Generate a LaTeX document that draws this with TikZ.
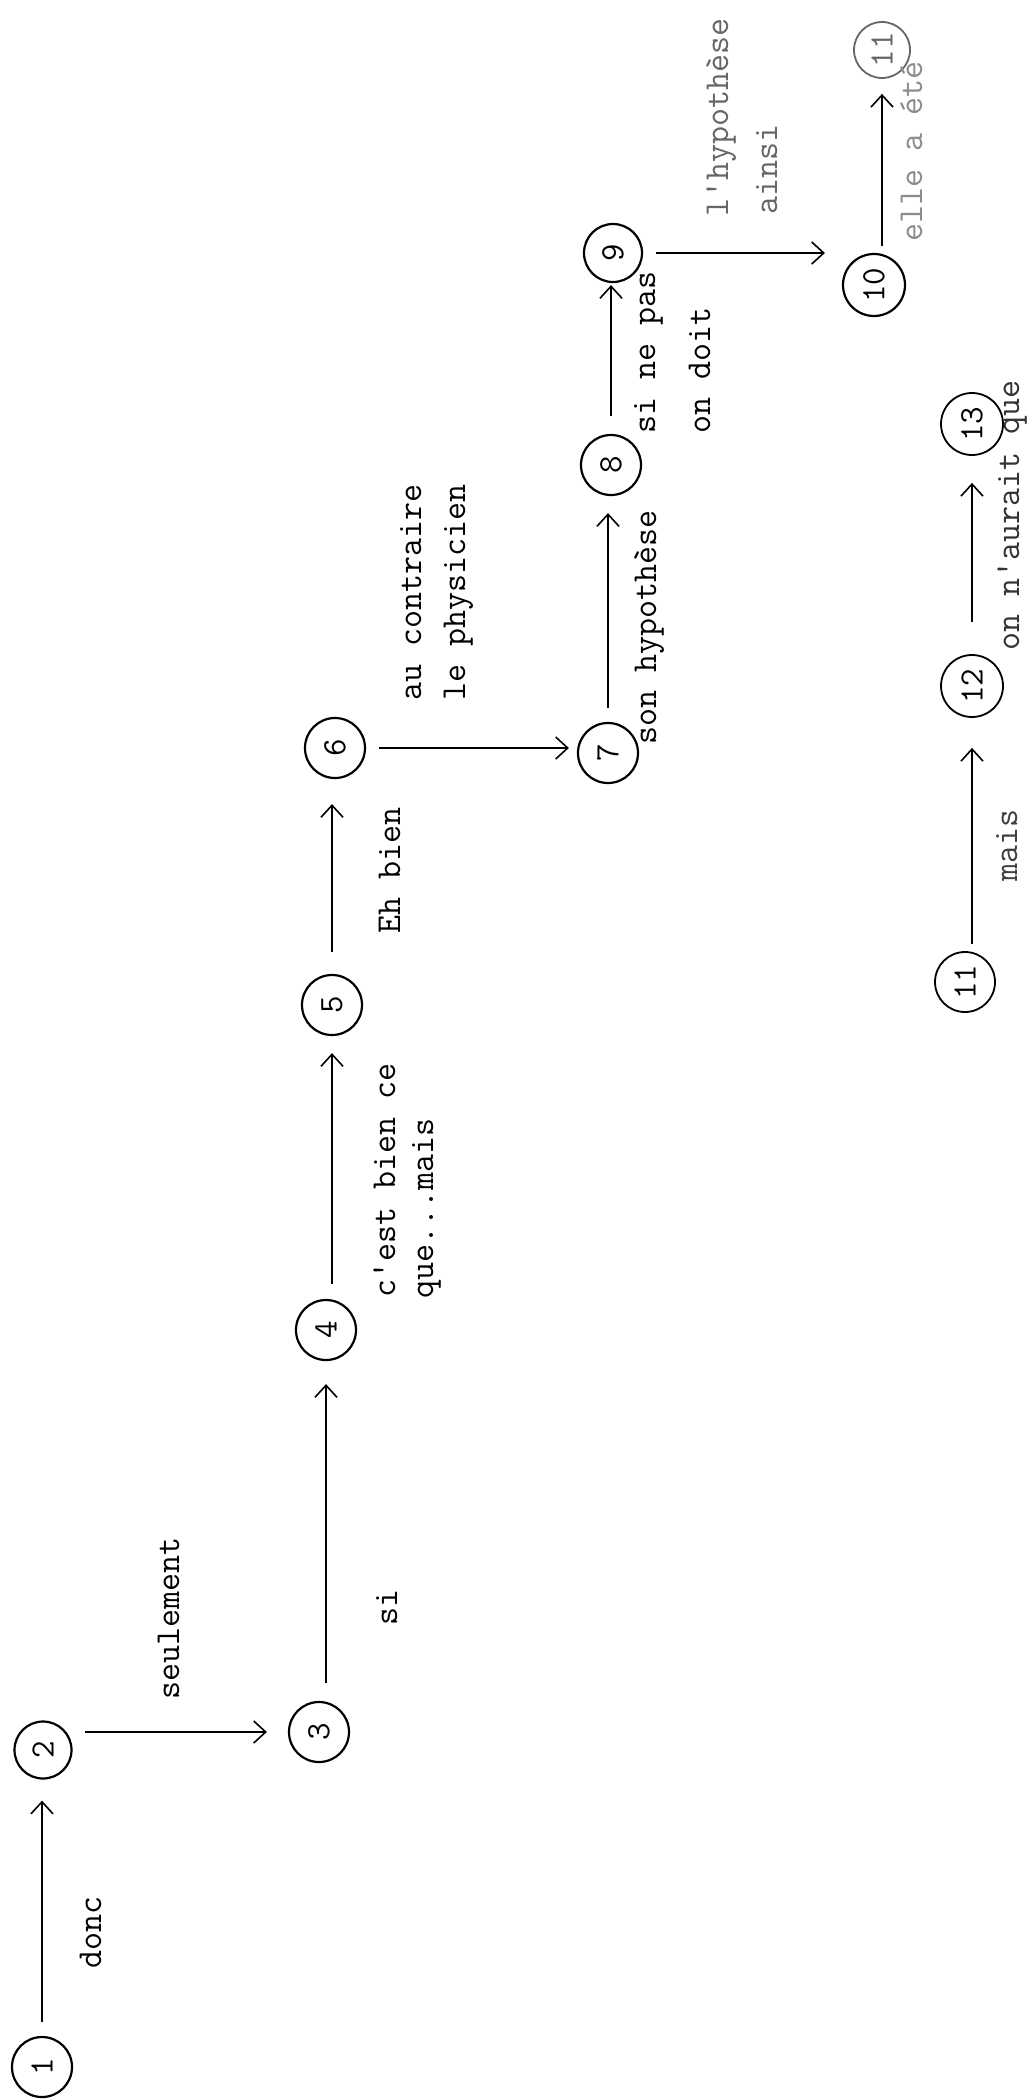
\documentclass[tikz,border=0pt]{standalone}
\usepackage{graphicx}
\usepackage{fontspec}
\usetikzlibrary{arrows.meta}
\newcommand{\rotnum}[1]{\rotatebox{90}{#1}}
\tikzset{
  num/.style={circle, draw, line width=2.2pt, minimum size=60pt, inner sep=0pt,
    font=\ttfamily\fontsize{34}{34}\selectfont},
  lbl/.style={anchor=base west, inner sep=0pt,
    font=\ttfamily\fontsize{35}{35}\selectfont, rotate=90},
  conn/.style={line width=1.4pt, -{Straight Barb[length=12pt,width=22pt,line width=1.6pt]}},
  faded/.style={black!60},
  faint/.style={black!45},
}
\begin{document}
\begin{tikzpicture}[x=1pt,y=-1pt]
\fill[white] (0,0) rectangle (1026,2100);
\useasboundingbox (0,0) rectangle (1026,2100);

% circled numbers
\node[num] (n1) at (42,2067) {\rotnum{1}};
\node[num, minimum size=57pt] (n2) at (43,1750) {\rotnum{2}};
\node[num] (n3) at (319,1732) {\rotnum{3}};
\node[num] (n4) at (326,1330) {\rotnum{4}};
\node[num] (n5) at (332,1005) {\rotnum{5}};
\node[num] (n6) at (335,748) {\rotnum{6}};
\node[num] (n7) at (608,753) {\rotnum{7}};
\node[num] (n8) at (611,465) {\rotnum{8}};
\node[num, minimum size=58pt] (n9) at (613,253) {\rotnum{9}};
\node[num, minimum size=62pt] (n10) at (874,285) {\rotnum{10}};
\node[num, faded, minimum size=56pt, line width=1.8pt] (n11a) at (882,50) {\rotnum{11}};
\node[num, line width=1.8pt] (n11b) at (965,982) {\rotnum{11}};
\node[num, line width=1.8pt, minimum size=62pt] (n12) at (972,686) {\rotnum{12}};
\node[num, line width=1.8pt, minimum size=62pt] (n13) at (972,424) {\rotnum{13}};

% connectors
\draw[conn, shorten <=14pt, shorten >=21pt] (n1.north) -- (n1.north |- n2.south);
\draw[conn, shorten <=12pt, shorten >=21pt] (n2.east |- n3) -- (n3.west);
\draw[conn, shorten <=18pt, shorten >=23pt] (n3.north -| n4) -- (n4.south);
\draw[conn, shorten <=15pt, shorten >=17pt] (n4.north -| n5) -- (n5.south);
\draw[conn, shorten <=22pt, shorten >=25pt] (n5.north) -- (n5.north |- n6.south);
\draw[conn, shorten <=13pt, shorten >=8pt] (n6.east) -- (n6.east -| n7.west);
\draw[conn, shorten <=14pt, shorten >=17pt] (n7.north) -- (n7.north |- n8.south);
\draw[conn, shorten <=18pt, shorten >=2pt] (n8.north) -- (n8.north |- n9.south);
\draw[conn, shorten <=13pt, shorten >=17pt] (n9.east) -- (n9.east -| n10.west);
\draw[conn, shorten <=7pt, shorten >=15pt] (n10.north -| n11a) -- (n11a.south);
\draw[conn, shorten <=7pt, shorten >=30pt] (n11b.north -| n12) -- (n12.south);
\draw[conn, shorten <=32pt, shorten >=27pt] (n12.north) -- (n12.north |- n13.south);

% labels
\node[lbl] (t1) at (101,1969) {donc};
\node[lbl] (t2) at (179,1700) {seulement};
\node[lbl] (t3) at (397,1626) {si};
\node[lbl] (t4a) at (395,1298) {c'est bien ce};
\node[lbl] (t4b) at (433,1299) {que...mais};
\node[lbl] (t5) at (400,934) {Eh bien};
\node[lbl] (t6a) at (421,701) {au contraire};
\node[lbl] (t6b) at (465,701) {le physicien};
\node[lbl] (t7) at (656,745) {son hypothèse};
\node[lbl] (t8a) at (655,434) {si ne pas};
\node[lbl] (t8b) at (710,434) {on doit};
\node[lbl, faded] (t9a) at (728,217) {l'hypothèse};
\node[lbl, faded] (t9b) at (777,215) {ainsi};
\node[lbl, faint] (t10) at (922,242) {elle a été};
\node[lbl, black!75] (t11) at (1017,882) {mais};
\node[lbl, black!80] (t12) at (1019,651) {on n'aurait que};
\end{tikzpicture}
\end{document}
